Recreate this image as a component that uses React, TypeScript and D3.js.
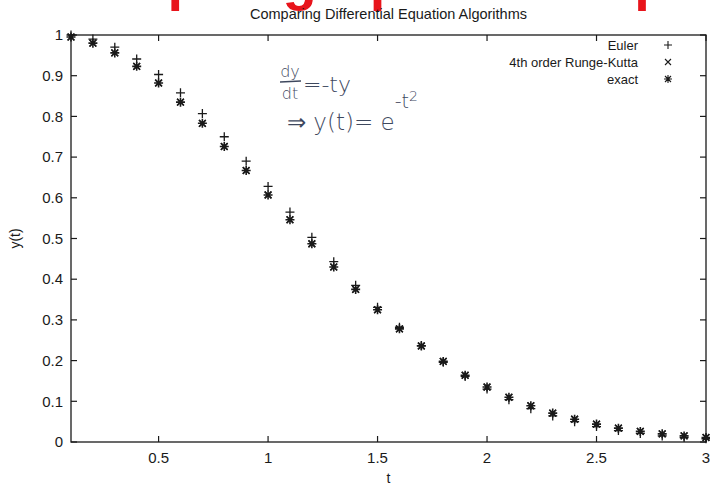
import { useEffect, useRef } from "react";
import * as d3 from "d3";

// t = 0.1 .. 3.0 in steps of 0.1
const T = [
  0.1, 0.2, 0.3, 0.4, 0.5, 0.6, 0.7, 0.8, 0.9, 1.0,
  1.1, 1.2, 1.3, 1.4, 1.5, 1.6, 1.7, 1.8, 1.9, 2.0,
  2.1, 2.2, 2.3, 2.4, 2.5, 2.6, 2.7, 2.8, 2.9, 3.0,
];

const EULER = [
  1.0, 0.99, 0.970, 0.941, 0.903, 0.858, 0.807, 0.750, 0.690, 0.628,
  0.565, 0.503, 0.443, 0.385, 0.331, 0.282, 0.237, 0.196, 0.161, 0.130,
  0.104, 0.082, 0.064, 0.050, 0.038, 0.028, 0.021, 0.015, 0.011, 0.008,
];

const RK4 = [
  0.995, 0.980, 0.956, 0.923, 0.882, 0.835, 0.783, 0.726, 0.667, 0.607,
  0.546, 0.487, 0.430, 0.375, 0.325, 0.278, 0.236, 0.198, 0.164, 0.135,
  0.110, 0.089, 0.071, 0.056, 0.044, 0.034, 0.026, 0.020, 0.015, 0.011,
];

const EXACT = [
  0.995, 0.980, 0.956, 0.923, 0.882, 0.835, 0.783, 0.726, 0.667, 0.607,
  0.546, 0.487, 0.430, 0.375, 0.325, 0.278, 0.236, 0.198, 0.164, 0.135,
  0.110, 0.089, 0.071, 0.056, 0.044, 0.034, 0.026, 0.020, 0.015, 0.011,
];

const X_TICKS = [0.5, 1, 1.5, 2, 2.5, 3];
const Y_TICKS = [0, 0.1, 0.2, 0.3, 0.4, 0.5, 0.6, 0.7, 0.8, 0.9, 1];

const SERIES = [
  { name: "Euler", values: EULER, shape: "plus" },
  { name: "4th order Runge-Kutta", values: RK4, shape: "cross" },
  { name: "exact", values: EXACT, shape: "star" },
];

const FONT = "Liberation Sans, Arial, Helvetica, sans-serif";
const INK = "#1a1a1a";

function markerPath(shape: string, r: number) {
  const p = `M${-r},0H${r}M0,${-r}V${r}`;
  const d = r * 0.75;
  const x = `M${-d},${-d}L${d},${d}M${-d},${d}L${d},${-d}`;
  if (shape === "plus") return p;
  if (shape === "cross") return x;
  return p + x;
}

export default function App() {
  const ref = useRef<SVGSVGElement>(null);

  useEffect(() => {
    const svg = d3.select(ref.current);
    svg.selectAll("*").remove();

    const left = 71, right = 706, top = 35, bottom = 442;
    const x = d3.scaleLinear().domain([0.1, 3]).range([left, right]);
    const y = d3.scaleLinear().domain([0, 1]).range([bottom, top]);

    // red slide heading, cut off by the top edge: only descenders show
    svg.append("text")
      .attr("x", 18).attr("y", -1)
      .attr("font-family", FONT).attr("font-weight", "bold")
      .attr("font-size", 56).attr("fill", "#e8141b")
      .text("Example: graphs to help");

    svg.append("text")
      .attr("x", (left + right) / 2).attr("y", 19)
      .attr("text-anchor", "middle")
      .attr("font-family", FONT).attr("font-size", 14.5).attr("fill", INK)
      .text("Comparing Differential Equation Algorithms");

    // frame
    svg.append("rect")
      .attr("x", left).attr("y", top)
      .attr("width", right - left).attr("height", bottom - top)
      .attr("fill", "none").attr("stroke", INK).attr("stroke-width", 1.3);

    const tk = 6;
    const axes = svg.append("g").attr("stroke", INK).attr("stroke-width", 1.2);
    X_TICKS.forEach(v => {
      axes.append("line").attr("x1", x(v)).attr("x2", x(v)).attr("y1", bottom).attr("y2", bottom - tk);
      axes.append("line").attr("x1", x(v)).attr("x2", x(v)).attr("y1", top).attr("y2", top + tk);
    });
    Y_TICKS.forEach(v => {
      axes.append("line").attr("x1", left).attr("x2", left + tk).attr("y1", y(v)).attr("y2", y(v));
      axes.append("line").attr("x1", right).attr("x2", right - tk).attr("y1", y(v)).attr("y2", y(v));
    });

    const labels = svg.append("g")
      .attr("font-family", FONT).attr("font-size", 15).attr("fill", INK);
    labels.selectAll(".xt").data(X_TICKS).join("text")
      .attr("class", "xt")
      .attr("x", d => x(d)).attr("y", bottom + 21)
      .attr("text-anchor", "middle")
      .text(d => d3.format("~g")(d));
    labels.selectAll(".yt").data(Y_TICKS).join("text")
      .attr("class", "yt")
      .attr("x", left - 8).attr("y", d => y(d))
      .attr("dy", "0.35em")
      .attr("text-anchor", "end")
      .text(d => d3.format("~g")(d));

    labels.append("text")
      .attr("x", (left + right) / 2).attr("y", 483)
      .attr("text-anchor", "middle").attr("font-size", 14)
      .text("t");
    labels.append("text")
      .attr("transform", `translate(20,${(top + bottom) / 2}) rotate(-90)`)
      .attr("text-anchor", "middle").attr("font-size", 14)
      .text("y(t)");

    // points
    const pts = svg.append("g").attr("fill", "none").attr("stroke", INK);
    SERIES.forEach(s => {
      pts.selectAll(null).data(s.values).join("path")
        .attr("transform", (d, i) => `translate(${x(T[i])},${y(d)})`)
        .attr("stroke-width", s.shape === "star" ? 1.6 : 1.3)
        .attr("d", markerPath(s.shape, 4.5));
    });

    // legend
    const lg = svg.append("g").attr("font-family", FONT).attr("font-size", 13).attr("fill", INK);
    SERIES.forEach((s, i) => {
      const yy = 45 + i * 17;
      lg.append("text").attr("x", 638).attr("y", yy).attr("dy", "0.35em")
        .attr("text-anchor", "end").text(s.name);
      lg.append("path")
        .attr("transform", `translate(668,${yy})`)
        .attr("d", markerPath(s.shape, 4))
        .attr("fill", "none").attr("stroke", INK).attr("stroke-width", 1.1);
    });

    // handwritten note
    const pen = "#3e485e";
    const hw = svg.append("g").attr("font-family", "DejaVu Sans, sans-serif")
      .attr("font-weight", 300).attr("fill", pen).attr("font-size", 16);
    hw.append("text").attr("x", 290).attr("y", 77).attr("text-anchor", "middle").text("dy");
    hw.append("line").attr("x1", 280).attr("x2", 301).attr("y1", 82).attr("y2", 81)
      .attr("stroke", pen).attr("stroke-width", 1.3);
    hw.append("text").attr("x", 290).attr("y", 99).attr("text-anchor", "middle").text("dt");
    hw.append("text").attr("x", 303).attr("y", 92).attr("font-size", 22).text("=-ty");
    const l2 = hw.append("text").attr("x", 287).attr("y", 130).attr("font-size", 23);
    l2.append("tspan").text("⇒ y(t)= e");
    l2.append("tspan").attr("dy", -22).attr("font-size", 19).text("-t");
    l2.append("tspan").attr("dy", -7).attr("font-size", 14).text("2");
  }, []);

  return (
    <div style={{ position: "fixed", left: 0, top: 0, width: 710, height: 486, background: "#fff" }}>
      <svg ref={ref} width={710} height={486} />
    </div>
  );
}
